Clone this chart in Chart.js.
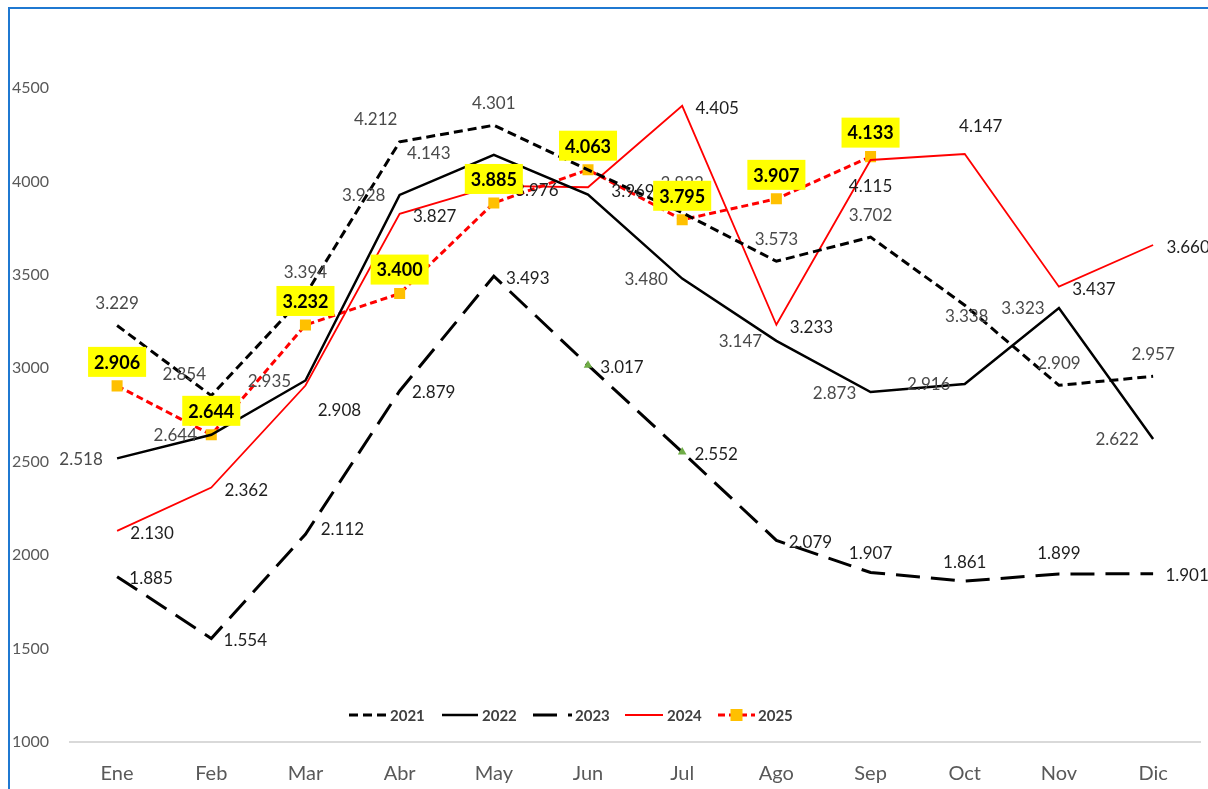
<!DOCTYPE html>
<html lang="es">
<head>
    <meta charset="UTF-8">
    <title>Serie mensual</title>
    <style>
      body { margin: 0; background: #fff; }
      #wrap { position: relative; width: 1208px; height: 789px; overflow: hidden; }
      #frame { position: absolute; left: 8px; top: 7px; right: -10px; bottom: -10px;
               border-left: 2px solid #1f78d1; border-top: 2px solid #1f78d1; pointer-events: none; }
    </style>
</head>
<body>
    <div id="wrap">
        <canvas id="myChart" width="1208" height="789"></canvas>
        <div id="frame"></div>
    </div>

    <script src="https://cdn.jsdelivr.net/npm/chart.js"></script>

    <script>
      const months = ['Ene', 'Feb', 'Mar', 'Abr', 'May', 'Jun', 'Jul', 'Ago', 'Sep', 'Oct', 'Nov', 'Dic'];
      const v2021 = [3229, 2854, 3394, 4212, 4301, 4062, 3833, 3573, 3702, 3338, 2909, 2957];
      const v2022 = [2518, 2644, 2935, 3928, 4143, 3930, 3480, 3147, 2873, 2916, 3323, 2622];
      const v2023 = [1885, 1554, 2112, 2879, 3493, 3017, 2552, 2079, 1907, 1861, 1899, 1901];
      const v2024 = [2130, 2362, 2908, 3827, 3976, 3969, 4405, 3233, 4115, 4147, 3437, 3660];
      const v2025 = [2906, 2644, 3232, 3400, 3885, 4063, 3795, 3907, 4133];
      const yTicks = [1000, 1500, 2000, 2500, 3000, 3500, 4000, 4500];

      const FONT = 'Lato, "Open Sans", sans-serif';

      // miles con punto: 3229 -> 3.229
      function fmt(v) {
        let s = String(Math.round(v));
        return s.length > 3 ? s.slice(0, -3) + '.' + s.slice(-3) : s;
      }

      // label placement (offsets from the point), one setting per serie plus exceptions
      const labelCfg = [
        { color: '#4a4a4a', def: [0, -23], at: { 1: [-27, -22], 3: [-24, -23], 6: [0, -30], 9: [2, 10] } },
        { color: '#4a4a4a', def: [-36, 0], at: { 4: [-65, -2], 5: null } },
        { color: '#1e1e1e', def: [34, 1], at: { 2: [37, -6], 8: [0, -20], 9: [0, -20], 10: [0, -22] } },
        { color: '#1e1e1e', def: [35, 2], at: { 2: [34, 24], 4: [43, 4], 5: [45, 3], 8: [0, 26], 9: [16, -28] } },
        { color: '#000', def: [0, -24], at: {}, box: '#ffff00', bold: true }
      ];

      const labelPlugin = {
        id: 'valueLabels',
        afterDatasetsDraw(chart) {
          const ctx = chart.ctx;
          ctx.save();
          ctx.textAlign = 'center';
          ctx.textBaseline = 'middle';
          chart.data.datasets.forEach((ds, i) => {
            const cfg = labelCfg[i];
            const meta = chart.getDatasetMeta(i);
            ctx.font = (cfg.bold ? 'bold 18px ' : '17px ') + FONT;
            meta.data.forEach((pt, j) => {
              const v = ds.data[j];
              if (v == null) return;
              let off = j in cfg.at ? cfg.at[j] : cfg.def;
              if (!off) return;
              const x = pt.x + off[0], y = pt.y + off[1];
              const txt = fmt(v);
              if (cfg.box) {
                const w = ctx.measureText(txt).width + 12;
                ctx.fillStyle = cfg.box;
                ctx.fillRect(x - w / 2, y - 15, w, 30);
              }
              ctx.fillStyle = cfg.color;
              ctx.fillText(txt, x, y + 1);
            });
          });
          ctx.restore();
        }
      };

      const legendItems = [
        { x0: 349, x1: 387, tx: 390 },
        { x0: 442, x1: 478, tx: 482 },
        { x0: 533, x1: 572, tx: 575 },
        { x0: 625, x1: 663, tx: 667 },
        { x0: 718, x1: 755, tx: 758 }
      ];

      const legendPlugin = {
        id: 'bottomLegend',
        afterDraw(chart) {
          const ctx = chart.ctx;
          const y = 715;
          ctx.save();
          chart.data.datasets.forEach((ds, i) => {
            const it = legendItems[i];
            ctx.beginPath();
            ctx.setLineDash(ds.borderDash || []);
            ctx.strokeStyle = ds.borderColor;
            ctx.lineWidth = ds.borderWidth;
            ctx.moveTo(it.x0, y);
            ctx.lineTo(it.x1, y);
            ctx.stroke();
            if (i === 4) {
              ctx.fillStyle = '#ffc000';
              ctx.fillRect((it.x0 + it.x1) / 2 - 6, y - 6, 12, 12);
            }
            ctx.setLineDash([]);
            ctx.fillStyle = '#404040';
            ctx.font = 'bold 15px ' + FONT;
            ctx.textAlign = 'left';
            ctx.textBaseline = 'middle';
            ctx.fillText(ds.label, it.tx, y + 1);
          });
          ctx.restore();
        }
      };

      const ctx = document.getElementById('myChart');

      let chart = new Chart(ctx, {
        type: 'line',
        data: {
          labels: months,
          datasets: [
            { label: '2021', data: v2021, borderColor: '#000', borderWidth: 3, borderDash: [9, 5], pointRadius: 0 },
            { label: '2022', data: v2022, borderColor: '#000', borderWidth: 2.5, pointRadius: 0 },
            { label: '2023', data: v2023, borderColor: '#000', borderWidth: 3, borderDash: [24, 11],
              pointRadius: [0, 0, 0, 0, 0, 5, 5, 0, 0, 0, 0, 0], pointStyle: 'triangle',
              pointBackgroundColor: '#70ad47', pointBorderWidth: 0 },
            { label: '2024', data: v2024, borderColor: '#ff0000', borderWidth: 1.8, pointRadius: 0 },
            { label: '2025', data: v2025, borderColor: '#ff0000', borderWidth: 3, borderDash: [7, 4],
              pointRadius: 7.8, pointStyle: 'rect', pointBackgroundColor: '#ffc000',
              pointBorderColor: '#ffc000', pointBorderWidth: 0 }
          ]
        },
        options: {
          responsive: false,
          animation: false,
          layout: { padding: { left: 12, right: 2, top: 32, bottom: 0 } },
          elements: { line: { tension: 0 } },
          plugins: { legend: { display: false }, tooltip: { enabled: false } },
          scales: {
            x: {
              offset: true,
              grid: { display: false, drawTicks: false, offset: true },
              border: { display: true, color: '#d9d9d9', width: 2 },
              ticks: { color: '#595959', font: { family: FONT, size: 20 }, padding: 20 },
              afterFit(s) { s.height = 47; }
            },
            y: {
              min: 1000,
              max: 4800,
              grid: { display: false, drawTicks: false },
              border: { display: false },
              ticks: { color: '#595959', font: { family: FONT, size: 16 }, crossAlign: 'far', padding: 0,
                       callback: v => String(v) },
              afterBuildTicks(s) { s.ticks = yTicks.map(v => ({ value: v })); },
              afterFit(s) { s.width = 58; }
            }
          }
        },
        plugins: [labelPlugin, legendPlugin]
      });
    </script>
</body>
</html>
